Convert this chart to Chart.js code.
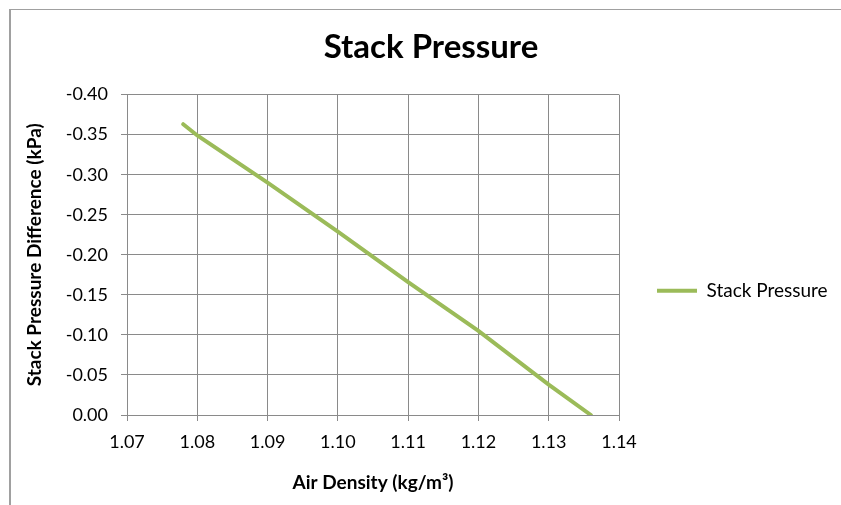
<!DOCTYPE html>
<html>
<head>
<meta charset="utf-8">
<title>Stack Pressure</title>
<script src="https://cdn.jsdelivr.net/npm/chart.js@4.4.1/dist/chart.umd.min.js"></script>
<style>
  html, body { margin: 0; padding: 0; background: #fff; }
  #wrap { position: relative; width: 841px; height: 505px; overflow: hidden; }
  #frame { position: absolute; left: 9px; top: 9px; right: -10px; bottom: -10px;
           border-left: 2px solid #a0a0a0; border-top: 1px solid #a0a0a0; }
  canvas { position: absolute; left: 0; top: 0; }
</style>
</head>
<body>
<div id="wrap">
  <div id="frame"></div>
  <canvas id="stackChart" width="841" height="505"></canvas>
</div>
<script>
// values
const airDensity = [1.078, 1.08, 1.09, 1.10, 1.11, 1.12, 1.13, 1.136];
const pressureDiff = [-0.363, -0.349, -0.290, -0.229, -0.166, -0.105, -0.038, 0.00];
const xTicks = [1.07, 1.08, 1.09, 1.10, 1.11, 1.12, 1.13, 1.14];
const yTicks = [0.00, -0.05, -0.10, -0.15, -0.20, -0.25, -0.30, -0.35, -0.40];

const gridColor = '#8a8a8a';
Chart.defaults.font.family = 'Lato';
Chart.defaults.color = '#000';

// give the legend a fixed width so the plot ends where it should
const legendWidth = {
  id: 'legendWidth',
  beforeInit(chart) {
    const fit = chart.legend.fit;
    chart.legend.fit = function () {
      fit.call(this);
      this.width = 222;
    };
  }
};

new Chart(document.getElementById('stackChart'), {
  type: 'line',
  data: {
    datasets: [{
      label: 'Stack Pressure',
      data: airDensity.map((x, i) => ({ x: x, y: pressureDiff[i] })),
      borderColor: '#9bbb59',
      backgroundColor: '#9bbb59',
      borderWidth: 4,
      borderCapStyle: 'round',
      pointRadius: 0,
      tension: 0,
      fill: false
    }]
  },
  options: {
    responsive: false,
    animation: false,
    layout: { padding: { left: 21, top: 0, right: 0, bottom: 0 } },
    plugins: {
      title: {
        display: true,
        text: 'Stack Pressure',
        font: { size: 33, weight: 'bold' },
        color: '#000',
        padding: { top: 28, bottom: 27 }
      },
      legend: {
        position: 'right',
        title: { display: true, text: '', padding: 31 },
        labels: {
          usePointStyle: true,
          pointStyle: 'line',
          pointStyleWidth: 40,
          padding: 38,
          font: { size: 19 },
          color: '#000'
        }
      },
      tooltip: { enabled: false }
    },
    scales: {
      x: {
        type: 'linear',
        min: 1.07,
        max: 1.14,
        afterBuildTicks: s => { s.ticks = xTicks.map(v => ({ value: v })); },
        afterFit: s => { s.height = 90; },
        grid: { color: gridColor, tickLength: 6, tickColor: gridColor },
        border: { color: gridColor },
        ticks: { font: { size: 18 }, padding: 10, maxRotation: 0, callback: v => v.toFixed(2) },
        title: {
          display: true,
          text: 'Air Density (kg/m³)',
          font: { size: 19, weight: 'bold' },
          padding: { top: 0, bottom: 10.6 }
        }
      },
      y: {
        reverse: true,
        min: -0.40,
        max: 0,
        afterBuildTicks: s => { s.ticks = yTicks.map(v => ({ value: v })); },
        afterFit: s => { s.width = 106; },
        grid: { color: gridColor, tickLength: 6, tickColor: gridColor },
        border: { color: gridColor },
        ticks: { font: { size: 18 }, padding: 13, callback: v => v.toFixed(2) },
        title: {
          display: true,
          text: 'Stack Pressure Difference (kPa)',
          font: { size: 19, weight: 'bold' },
          padding: { top: 2.6, bottom: 0 }
        }
      }
    }
  },
  plugins: [legendWidth]
});
</script>
</body>
</html>
